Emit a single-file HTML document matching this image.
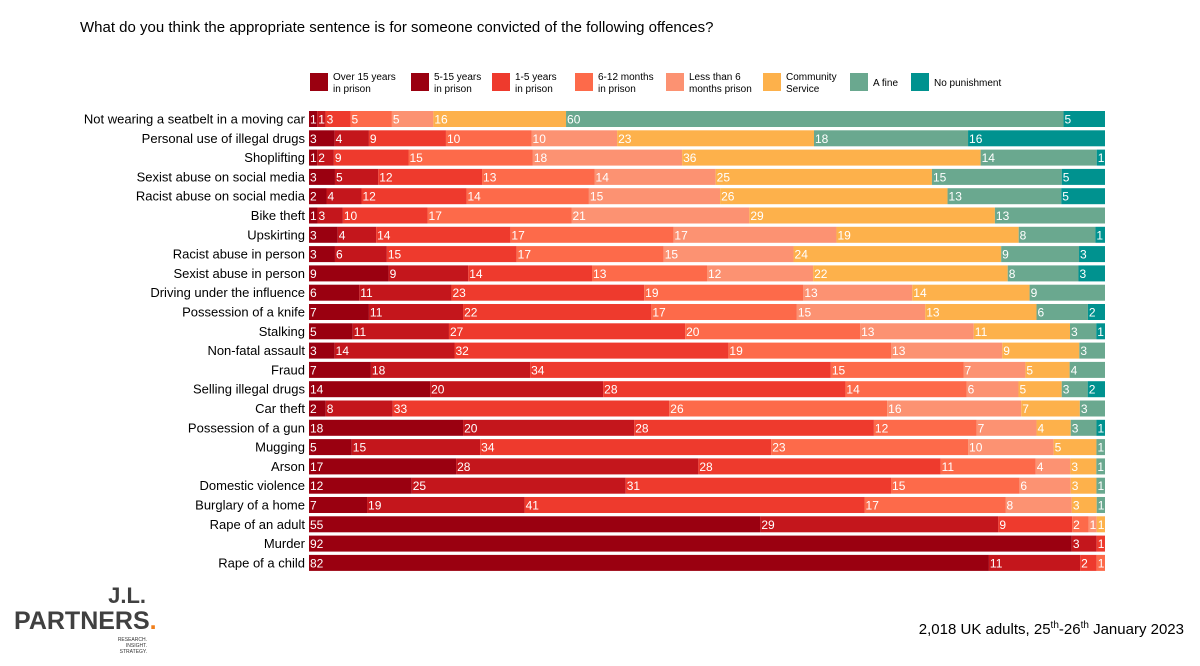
<!DOCTYPE html>
<html><head><meta charset="utf-8"><style>
body{margin:0;width:1200px;height:661px;background:#fff;overflow:hidden;font-family:"Liberation Sans",Arial,sans-serif;}
</style></head><body>
<svg id="chart" width="1200" height="661" xmlns="http://www.w3.org/2000/svg" font-family="Liberation Sans, Arial, sans-serif">
<text x="80" y="32" font-size="15" fill="#000">What do you think the appropriate sentence is for someone convicted of the following offences?</text>
<g id="legend"></g>
<g id="bars"></g>
<g fill="#404040" font-weight="bold">
<text x="146" y="603" font-size="22" text-anchor="end">J.L.</text>
<text x="14" y="629" font-size="25">PARTNERS<tspan fill="#f07f1b">.</tspan></text>
<text x="147" y="641" font-size="5" text-anchor="end" font-weight="normal" fill="#333">RESEARCH.</text>
<text x="147" y="647" font-size="5" text-anchor="end" font-weight="normal" fill="#333">INSIGHT.</text>
<text x="147" y="653" font-size="5" text-anchor="end" font-weight="normal" fill="#333">STRATEGY.</text>
</g>
<text x="1184" y="634" font-size="15" text-anchor="end" fill="#000">2,018 UK adults, 25<tspan font-size="10" dy="-6">th</tspan><tspan dy="6">-26</tspan><tspan font-size="10" dy="-6">th</tspan><tspan dy="6"> January 2023</tspan></text>
</svg>
<script>
const categories=["Not wearing a seatbelt in a moving car","Personal use of illegal drugs","Shoplifting","Sexist abuse on social media","Racist abuse on social media","Bike theft","Upskirting","Racist abuse in person","Sexist abuse in person","Driving under the influence","Possession of a knife","Stalking","Non-fatal assault","Fraud","Selling illegal drugs","Car theft","Possession of a gun","Mugging","Arson","Domestic violence","Burglary of a home","Rape of an adult","Murder","Rape of a child"];
const seriesNames=["Over 15 years|in prison","5-15 years|in prison","1-5 years|in prison","6-12 months|in prison","Less than 6|months prison","Community|Service","A fine","No punishment"];
const over15=[1,3,1,3,2,1,3,3,9,6,7,5,3,7,14,2,18,5,17,12,7,55,92,82];
const y5to15=[1,4,2,5,4,3,4,6,9,11,11,11,14,18,20,8,20,15,28,25,19,29,3,11];
const y1to5=[3,9,9,12,12,10,14,15,14,23,22,27,32,34,28,33,28,34,28,31,41,9,1,2];
const m6to12=[5,10,15,13,14,17,17,17,13,19,17,20,19,15,14,26,12,23,11,15,17,2,0,1];
const lt6=[5,10,18,14,15,21,17,15,12,13,15,13,13,7,6,16,7,10,4,6,8,1,0,0];
const community=[16,23,36,25,26,29,19,24,22,14,13,11,9,5,5,7,4,5,3,3,3,1,0,0];
const fine=[60,18,14,15,13,13,8,9,8,9,6,3,3,4,3,3,3,1,1,1,1,0,0,0];
const noPunishment=[5,16,1,5,5,0,1,3,3,0,2,1,0,0,2,0,1,0,0,0,0,0,0,0];
const series=[over15,y5to15,y1to5,m6to12,lt6,community,fine,noPunishment];
const colors=["#9a0010","#c4161c","#ee3a2d","#fd6a4a","#fc9272","#fdb14b","#6aa88f","#00928f"];
const legendColors=["#9a0010","#9a0010","#ee3a2d","#fd6a4a","#fc9272","#fdb14b","#6aa88f","#00928f"];
const NS="http://www.w3.org/2000/svg";
const x0=309,x1=1105,yTop=111,pitch=19.3,bh=16;
function xScale(frac){return x0+frac*(x1-x0);}
function yRow(i){return yTop+i*pitch;}
const bars=document.getElementById('bars');
function mk(tag,attrs,parent){const e=document.createElementNS(NS,tag);for(const k in attrs)e.setAttribute(k,attrs[k]);parent.appendChild(e);return e;}
categories.forEach((c,i)=>{
  const y=yRow(i);
  const t=mk('text',{x:305,y:y+bh/2+4.5,'font-size':13,'text-anchor':'end',fill:'#000'},bars);
  t.textContent=c;
  
  
  let total=0;series.forEach(s=>total+=s[i]);
  let cum=0;
  series.forEach((s,j)=>{
    const v=s[i];
    const xa=xScale(cum/total),xb=xScale((cum+v)/total);
    cum+=v;
    if(v<=0)return;
    const r=mk('rect',{x:xa,y:y,width:Math.max(xb-xa,0.5),height:bh,fill:colors[j]},bars);
    
    
    const l=mk('text',{x:xa+1,y:y+bh/2+4.5,'font-size':12,fill:'#fff'},bars);
    l.textContent=v;
    
    
  });
});
const legend=document.getElementById('legend');
const lxReal=[310,411,492,575,666,763,850,911];
seriesNames.forEach((n,j)=>{
  const g=mk('g',{},legend);
  
  
  mk('rect',{x:lxReal[j],y:73,width:18,height:18,fill:legendColors[j]},g);
  const parts=n.split('|');
  parts.forEach((p,k)=>{
    const t=mk('text',{x:lxReal[j]+23,y:parts.length>1?80+k*12:86,'font-size':10,fill:'#000'},g);
    t.textContent=p;
  });
});
</script>
</body></html>
